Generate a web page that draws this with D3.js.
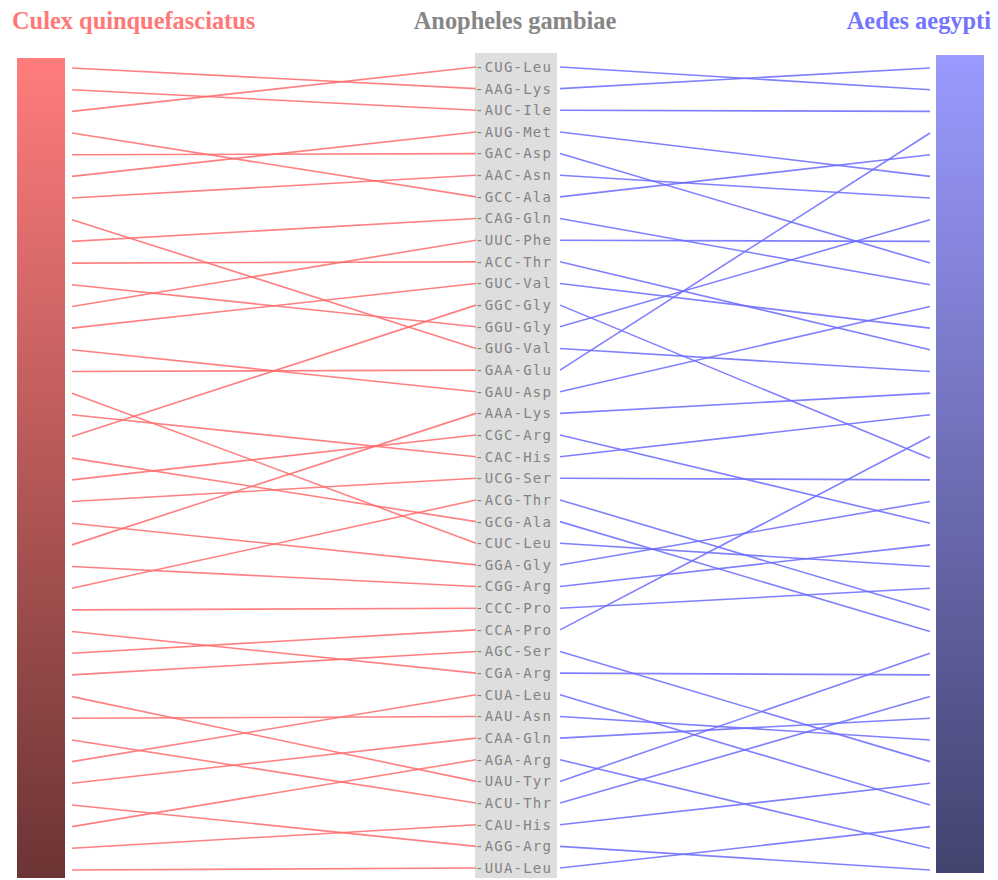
<!DOCTYPE html>
<html>
<head>
<meta charset="utf-8">
<script src="https://cdn.jsdelivr.net/npm/d3@7"></script>
<style>
  body { margin: 0; background: #fff; }
  svg { display: block; }
</style>
</head>
<body>
<div id="chart"></div>
<script>
// codons as listed for Anopheles gambiae (centre column, top to bottom)
const codons = ["CUG","AAG","AUC","AUG","GAC","AAC","GCC","CAG","UUC","ACC","GUC","GGC","GGU",
    "GUG","GAA","GAU","AAA","CGC","CAC","UCG","ACG","GCG","CUC","GGA","CGG","CCC","CCA","AGC",
    "CGA","CUA","AAU","CAA","AGA","UAU","ACU","CAU","AGG","UUA"];
const aminoAcids = ["Leu","Lys","Ile","Met","Asp","Asn","Ala","Gln","Phe","Thr","Val","Gly","Gly",
    "Val","Glu","Asp","Lys","Arg","His","Ser","Thr","Ala","Leu","Gly","Arg","Pro","Pro","Ser",
    "Arg","Leu","Asn","Gln","Arg","Tyr","Thr","His","Arg","Leu"];

// same codons ranked for Culex quinquefasciatus (left)
const culexOrder = ["AAG","AUC","CUG","GCC","GAC","AUG","AAC","GUG","CAG","ACC","GGU","UUC","GUC",
    "GAU","GAA","CUC","CAC","GGC","GCG","CGC","UCG","GGA","AAA","CGG","ACG","CCC","CGA","CCA",
    "AGC","UAU","AAU","ACU","CUA","CAA","AGG","AGA","CAU","UUA"];

// and for Aedes aegypti (right)
const aedesOrder = ["AAG","CUG","AUC","GAA","GCC","AUG","AAC","GGU","UUC","GAC","CAG","GAU","GUC",
    "ACC","GUG","AAA","CAC","CCA","GGC","UCG","GGA","CGC","CGG","CUC","CCC","ACG","GCG","UAU",
    "CGA","ACU","CAA","AAU","AGC","CAU","CUA","UUA","AGA","AGG"];

const titles = ["Culex quinquefasciatus", "Anopheles gambiae", "Aedes aegypti"];

const width = 998, height = 880;

const svg = d3.select("#chart")
    .append("svg")
    .attr("width", width)
    .attr("height", height);

const defs = svg.append("defs");
function grad(id, top, bottom) {
    const g = defs.append("linearGradient")
        .attr("id", id)
        .attr("x1", 0).attr("y1", 0).attr("x2", 0).attr("y2", 1);
    g.append("stop").attr("offset", "0%").attr("stop-color", top);
    g.append("stop").attr("offset", "100%").attr("stop-color", bottom);
}
grad("gradCulex", "#ff7c7c", "#6c3434");
grad("gradAedes", "#9a9aff", "#43436f");

// scales: one point scale per column
const yMid = d3.scalePoint().domain(codons).range([67, 868]);
const yLeft = d3.scalePoint().domain(culexOrder).range([68, 870]);
const yRight = d3.scalePoint().domain(aedesOrder).range([68, 870]);

// bars
svg.append("rect")
    .attr("x", 17).attr("y", 58)
    .attr("width", 48).attr("height", 820)
    .attr("fill", "url(#gradCulex)");

svg.append("rect")
    .attr("x", 936).attr("y", 55)
    .attr("width", 48).attr("height", 818)
    .attr("fill", "url(#gradAedes)");

// centre column
svg.append("rect")
    .attr("x", 475).attr("y", 53)
    .attr("width", 82).attr("height", 825)
    .attr("fill", "#dedede");

// links to Culex
svg.append("g")
    .selectAll("line")
    .data(codons)
    .enter()
    .append("line")
    .attr("x1", 72)
    .attr("y1", d => yLeft(d))
    .attr("x2", 476)
    .attr("y2", d => yMid(d))
    .attr("stroke", "#ff6a6a")
    .attr("stroke-opacity", 0.85)
    .attr("stroke-width", 1.6);

// links to Aedes
svg.append("g")
    .selectAll("line")
    .data(codons)
    .enter()
    .append("line")
    .attr("x1", 560)
    .attr("y1", d => yMid(d))
    .attr("x2", 930)
    .attr("y2", d => yRight(d))
    .attr("stroke", "#6a6aff")
    .attr("stroke-opacity", 0.85)
    .attr("stroke-width", 1.6);

// codon labels
svg.append("g")
    .selectAll("text")
    .data(codons)
    .enter()
    .append("text")
    .attr("x", 475)
    .attr("y", d => yMid(d))
    .attr("dy", "0.35em")
    .attr("font-family", "DejaVu Sans Mono, monospace")
    .attr("font-size", 14)
    .attr("letter-spacing", 1.2)
    .attr("fill", "#838383")
    .text((d, i) => "-" + d + "-" + aminoAcids[i]);

// titles
const titleStyle = [
    {x: 12, anchor: "start", color: "#ff7878"},
    {x: 515, anchor: "middle", color: "#868686"},
    {x: 991, anchor: "end", color: "#7474ff"}
];
svg.selectAll(".title")
    .data(titles)
    .enter()
    .append("text")
    .attr("class", "title")
    .attr("x", (d, i) => titleStyle[i].x)
    .attr("y", 29)
    .attr("text-anchor", (d, i) => titleStyle[i].anchor)
    .attr("font-family", "Liberation Serif, Times New Roman, serif")
    .attr("font-weight", "bold")
    .attr("font-size", 24.4)
    .attr("fill", (d, i) => titleStyle[i].color)
    .text(d => d);
</script>
</body>
</html>
